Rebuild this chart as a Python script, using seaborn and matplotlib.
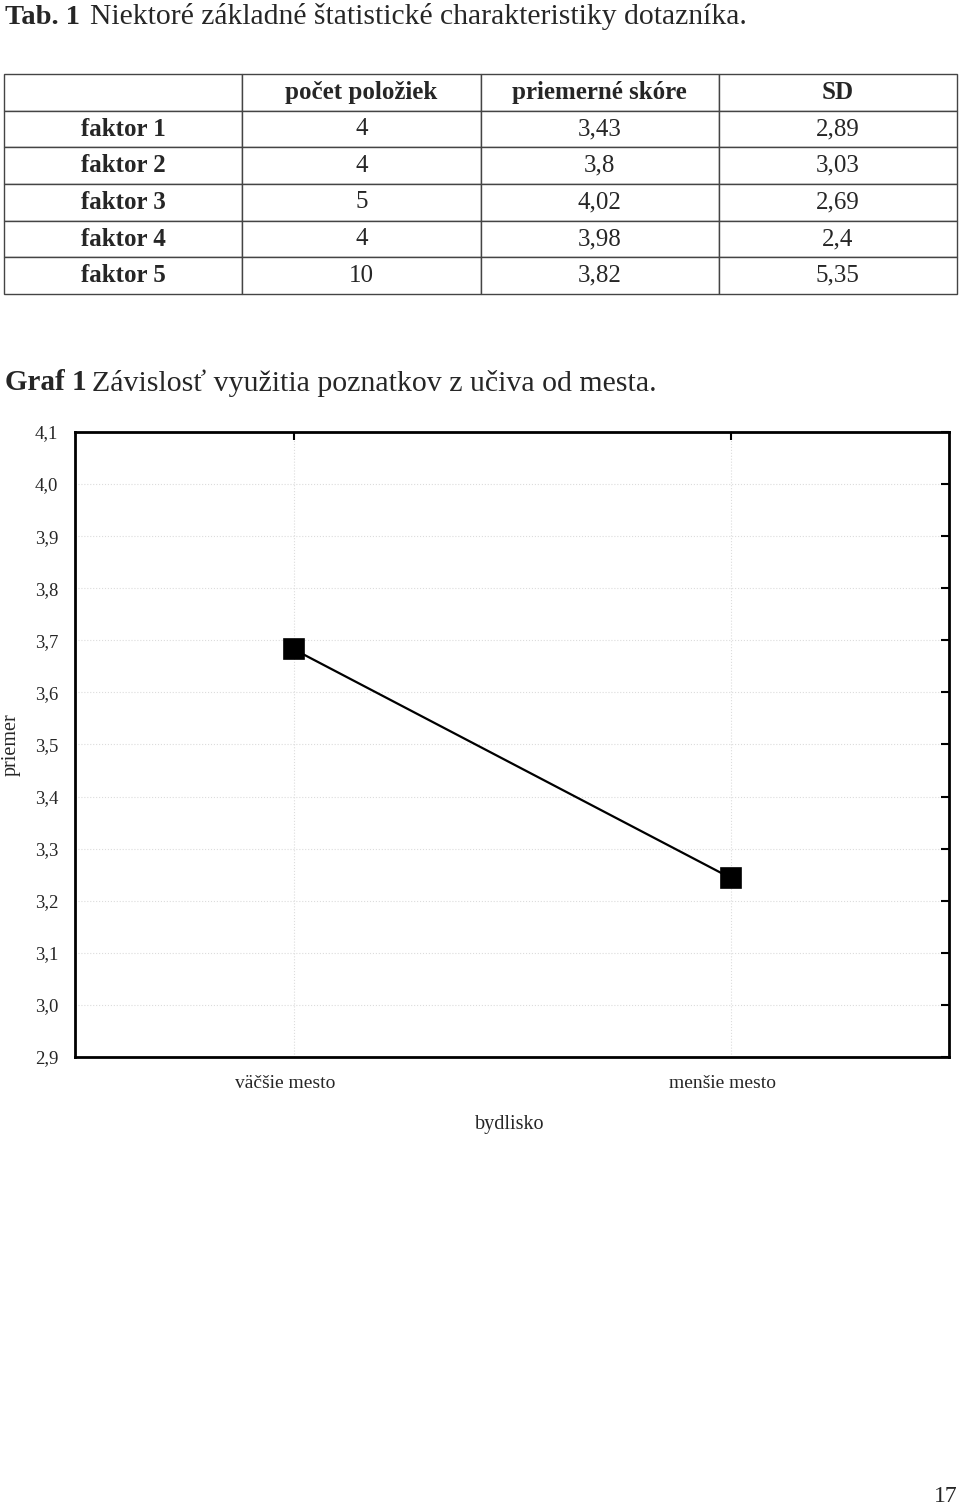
import matplotlib
matplotlib.use("Agg")
import matplotlib.pyplot as plt
import matplotlib.transforms as mtransforms
import seaborn as sns
import pandas as pd
import numpy as np

# ---- data ----
table_cols = ["", "počet položiek", "priemerné skóre", "SD"]
factors = ["faktor 1", "faktor 2", "faktor 3", "faktor 4", "faktor 5"]
item_counts = ["4", "4", "5", "4", "10"]
mean_scores = ["3,43", "3,8", "4,02", "3,98", "3,82"]
sds = ["2,89", "3,03", "2,69", "2,4", "5,35"]

categories = ["väčšie mesto", "menšie mesto"]
means = [3.683, 3.244]
yticks = [2.9, 3.0, 3.1, 3.2, 3.3, 3.4, 3.5, 3.6, 3.7, 3.8, 3.9, 4.0, 4.1]

sns.set_theme(style="white")
plt.rcParams["font.family"] = ["Liberation Serif", "DejaVu Serif"]

W, H = 960, 1509
fig = plt.figure(figsize=(W / 100, H / 100), dpi=100)

def fx(px):
    return px / W

def fy(py):
    return 1 - py / H

# titles
fig.text(fx(5), fy(17), "Tab. 1", fontsize=20.5, fontweight="bold", va="center", ha="left")
fig.text(fx(90), fy(17), "Niektoré základné štatistické charakteristiky dotazníka.",
         fontsize=21.3, va="center", ha="left")
fig.text(fx(5), fy(383), "Graf 1", fontsize=21, fontweight="bold", va="center", ha="left")
fig.text(fx(92), fy(383), "Závislosť využitia poznatkov z učiva od mesta.",
         fontsize=21.5, va="center", ha="left")
fig.text(fx(946), fy(1497), "17", fontsize=17, va="center", ha="center")

# ---- table ----
tax = fig.add_axes([fx(4), fy(294), fx(953), (294 - 74) / H])
tax.axis("off")
cell_text = [[f, n, m, s] for f, n, m, s in zip(factors, item_counts, mean_scores, sds)]
tbl = tax.table(cellText=cell_text, colLabels=table_cols, cellLoc="center",
                bbox=[0, 0, 1, 1])
tbl.auto_set_font_size(False)
for (r, c), cell in tbl.get_celld().items():
    cell.set_edgecolor("#444444")
    cell.set_linewidth(1.0)
    txt = cell.get_text()
    txt.set_fontsize(18)
    txt.set_va("center")
    if r == 0 or c == 0:
        txt.set_fontweight("bold")

# ---- chart ----
ax = fig.add_axes([fx(75), fy(1057), fx(874), 625 / H])
df = pd.DataFrame({"bydlisko": categories, "priemer": means})
sns.pointplot(data=df, x="bydlisko", y="priemer", color="black", markers="s",
              markersize=14, linewidth=1.6, ax=ax, errorbar=None)
for coll in ax.collections:
    coll.set_zorder(5)
ax.set_xlim(-0.5, 1.5)
ax.set_ylim(2.9, 4.1)
ax.set_yticks(yticks)
ax.set_yticklabels([f"{v:.1f}".replace(".", ",") for v in yticks])
ax.grid(True, color="#dcdcdc", linestyle=":", linewidth=0.8)
for s in ax.spines.values():
    s.set_visible(True)
    s.set_color("black")
    s.set_linewidth(2.0)
ax.tick_params(axis="both", direction="in", length=6, width=1.5, color="black",
               top=True, right=True)
ax.tick_params(axis="y", pad=12, labelsize=13.5)
ax.tick_params(axis="x", pad=13, labelsize=14)
shift = mtransforms.ScaledTranslation(-8 / 100, 0, fig.dpi_scale_trans)
for lbl in ax.get_xticklabels():
    lbl.set_transform(lbl.get_transform() + shift)
ax.set_xlabel("bydlisko", fontsize=14.5)
ax.set_ylabel("priemer", fontsize=14.5)
ax.xaxis.set_label_coords(0.497, -0.093)
ax.yaxis.set_label_coords(-0.062, 0.5)

fig.savefig("out.png", dpi=100)
